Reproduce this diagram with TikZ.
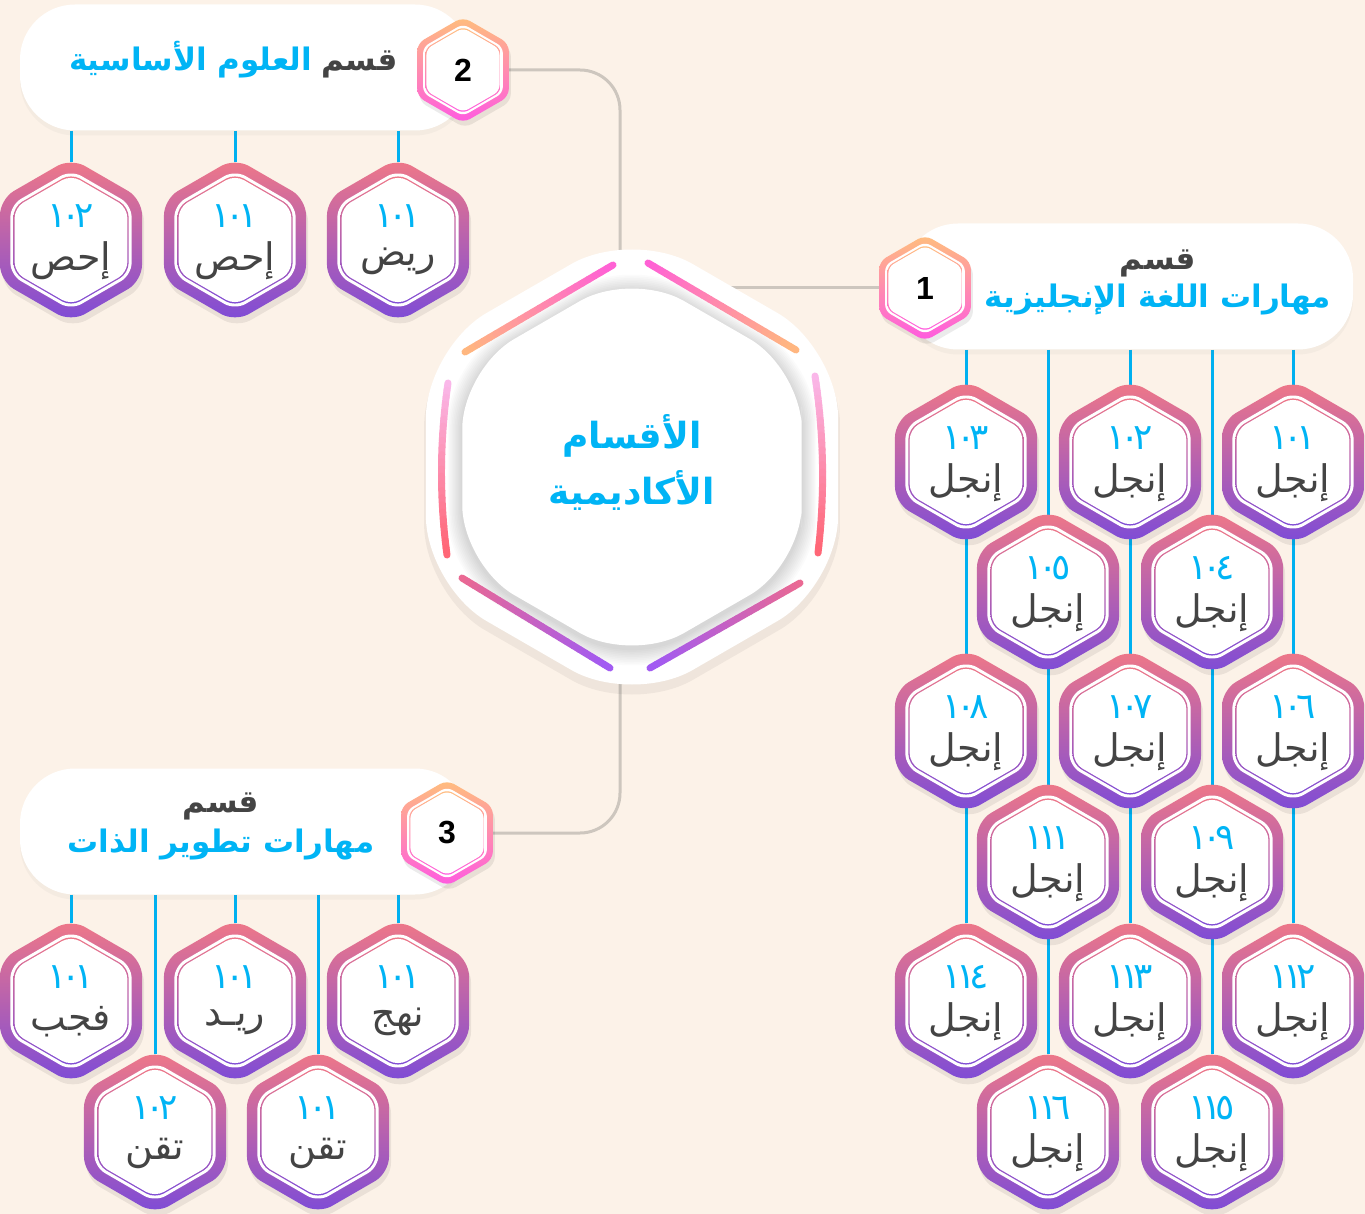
\documentclass[tikz,border=0pt]{standalone}
\usepackage{fontspec}
\usetikzlibrary{positioning,shadows}
\TeXXeTstate=1
\newfontfamily\arfont[Script=Arabic]{DejaVu Sans}
\newfontfamily\numfont[LetterSpace=-16]{DejaVu Sans}
\newfontfamily\latfont{Liberation Sans}

\definecolor{paper}{RGB}{252,242,232}
\definecolor{lineblue}{RGB}{0,176,240}
\definecolor{txtblue}{RGB}{0,180,245}
\definecolor{txtgray}{RGB}{68,68,68}
\definecolor{linkgray}{RGB}{205,198,190}
\definecolor{crsA}{RGB}{240,120,135}
\definecolor{crsM}{RGB}{195,100,180}
\definecolor{crsB}{RGB}{125,75,215}
\definecolor{bdgA}{RGB}{255,190,125}
\definecolor{bdgM}{RGB}{255,140,170}
\definecolor{bdgB}{RGB}{255,90,225}
\definecolor{dOrange}{RGB}{255,185,125}
\definecolor{dMagenta}{RGB}{255,95,215}
\definecolor{dPink}{RGB}{250,185,235}
\definecolor{dRed}{RGB}{255,100,115}
\definecolor{dRose}{RGB}{235,105,145}
\definecolor{dPurple}{RGB}{160,90,245}

\pgfdeclarelayer{back}
\pgfdeclarelayer{wires}
\pgfsetlayers{back,wires,main}

\tikzset{
  hexp/.style={insert path={(0:{0.866*(#1)}) -- (30:{#1}) -- (90:{#1}) -- (150:{#1})
    -- (210:{#1}) -- (270:{#1}) -- (330:{#1}) -- cycle}},
  vline/.style={draw=lineblue, line width=3pt},
  link/.style={draw=linkgray, line width=3pt, rounded corners=40pt},
  deptbox/.style={fill=white, rounded corners=55pt, minimum width=450pt, minimum height=126pt,
    drop shadow={opacity=0.06, shadow xshift=0pt, shadow yshift=-5pt}},
  deptword/.style={font=\arfont\bfseries\fontsize{31}{34}\selectfont, text=txtgray, inner sep=0pt},
  deptname/.style={font=\arfont\bfseries\fontsize{31}{34}\selectfont, text=txtblue, inner sep=0pt},
  hubtxt/.style={font=\arfont\bfseries\fontsize{36}{56}\selectfont, text=txtblue, align=center},
  crsnum/.style={font=\numfont\fontsize{36}{38}\selectfont, text=txtblue, inner sep=0pt},
  crsname/.style={font=\arfont\fontsize{38}{40}\selectfont, text=txtgray, inner sep=0pt},
  bdgtxt/.style={font=\latfont\bfseries\fontsize{32}{36}\selectfont, text=black},
  pics/course/.style 2 args={code={
    \fill[black, opacity=0.07, shift={(2,6)}, rounded corners=16pt, hexp=82];
    \shade[top color=crsA, middle color=crsM, bottom color=crsB, rounded corners=16pt, hexp=82];
    \fill[white, rounded corners=12pt, hexp=70];
    \shade[top color=crsA, bottom color=crsB, rounded corners=10pt, hexp=66.5];
    \fill[white, rounded corners=10pt, hexp=65];
    \node[crsnum] (-num) at (0,-24) {#1};
    \node[crsname] (-name) at (0,21) {\beginR #2\endR};
    \coordinate (-top) at (0,-78);
  }},
  pics/badge/.style={code={
    \fill[black, opacity=0.08, shift={(2,5)}, rounded corners=8pt, hexp=53];
    \shade[top color=bdgA, middle color=bdgM, bottom color=bdgB, rounded corners=8pt, hexp=53];
    \fill[white, rounded corners=6pt, hexp=46];
    \shade[top color=bdgA, bottom color=bdgB, rounded corners=6pt, hexp=43.5];
    \fill[white, rounded corners=6pt, hexp=42.2];
    \node[bdgtxt] (-num) {#1};
    \coordinate (-east) at (0:46);
    \coordinate (-west) at (180:46);
  }}
}

\begin{document}
\begin{tikzpicture}[x=1pt,y=-1pt]
\useasboundingbox (0,0) rectangle (1365,1214);
\begin{pgfonlayer}{back}
\fill[paper] (0,0) rectangle (1365,1214);
\end{pgfonlayer}

% department boxes
\node[deptbox] (dept2) at (245,67.5) {};
\node[deptbox] (dept1) at (1128,286.5) {};
\node[deptbox] (dept3) at (245,831.5) {};

\node[deptword, anchor=base east] (dept2w) at (398,71) {\beginR قسم\endR};
\node[deptname, left=9pt of dept2w.base west, anchor=base east] (dept2n) {\beginR العلوم الأساسية\endR};
\node[deptword] (dept1w) at (1158,263) {\beginR قسم\endR};
\node[deptname] (dept1n) at (1158,300) {\beginR مهارات اللغة الإنجليزية\endR};
\node[deptword] (dept3w) at (221,806) {\beginR قسم\endR};
\node[deptname] (dept3n) at (221,845) {\beginR مهارات تطوير الذات\endR};

% hub
\coordinate (hub) at (632,467);
\fill[black, opacity=0.05, shift={(hub)}, shift={(0,8)}, rounded corners=70pt, hexp=240];
\fill[white, shift={(hub)}, rounded corners=70pt, hexp=238];
\foreach \s in {1,...,10}
  \fill[black, opacity=0.014, shift={(hub)}, shift={(0,3)}, rounded corners=60pt, hexp={196+1.7*\s}];
\begin{scope}[shift={(hub)}, line width=7pt, line cap=round]
\foreach \xa/\ya/\xb/\yb/\bw/\ca/\cb in {
    -167/-115/-19/-202/0/dOrange/dMagenta,
    16/-204/164/-117/0/dMagenta/dOrange,
    183/-91/186/86/6/dPink/dRed,
    -184/-84/-185/88/-6/dPink/dRed,
    -170/111/-22/201/0/dRose/dPurple,
    168/116/18/201/0/dRose/dPurple}{
  \foreach \k in {0,...,23}{
    \pgfmathsetmacro\ta{\k/24}
    \pgfmathsetmacro\tb{(\k+1)/24}
    \pgfmathtruncatemacro\pc{100*(\k+0.5)/24}
    \colorlet{segc}{\cb!\pc!\ca}
    \draw[segc] ({\xa+(\xb-(\xa))*\ta+4*(\bw)*\ta*(1-\ta)},{\ya+(\yb-(\ya))*\ta})
      -- ({\xa+(\xb-(\xa))*\tb+4*(\bw)*\tb*(1-\tb)},{\ya+(\yb-(\ya))*\tb});
  }
}
\end{scope}
\fill[white, shift={(hub)}, rounded corners=60pt, hexp=196];
\node[hubtxt] (hubt) at (632,462) {\beginR الأقسام\endR\\\beginR الأكاديمية\endR};

% number badges
\pic (b2) at (463,70) {badge=2};
\pic (b1) at (925,288) {badge=1};
\pic (b3) at (447,833) {badge=3};

% courses
\foreach \nm/\cx/\cy/\cn/\cw in {s1/398/240/١٠١/ريض, s2/235/240/١٠١/إحص, s3/71/240/١٠٢/إحص}
  \pic (\nm) at (\cx,\cy) {course={\cn}{\cw}};
\foreach \nm/\cx/\cy/\cn in {e101/1293/462/١٠١, e102/1130/462/١٠٢, e103/966/462/١٠٣,
    e104/1212/592/١٠٤, e105/1048/592/١٠٥,
    e106/1293/731/١٠٦, e107/1130/731/١٠٧, e108/966/731/١٠٨,
    e109/1212/862/١٠٩, e111/1048/862/١١١,
    e112/1293/1001/١١٢, e113/1130/1001/١١٣, e114/966/1001/١١٤,
    e115/1212/1132/١١٥, e116/1048/1132/١١٦}
  \pic (\nm) at (\cx,\cy) {course={\cn}{إنجل}};
\foreach \nm/\cx/\cy/\cn/\cw in {p1/398/1001/١٠١/نهج, p2/235/1001/١٠١/ريـد, p3/71/1001/١٠١/فجب,
    p4/318/1132/١٠١/تقن, p5/155/1132/١٠٢/تقن}
  \pic (\nm) at (\cx,\cy) {course={\cn}{\cw}};

% connectors
\begin{pgfonlayer}{wires}
\foreach \c in {s1,s2,s3}
  \draw[vline] (\c-top |- dept2.south) -- (\c-top);
\foreach \c in {e112,e113,e114,e115,e116}
  \draw[vline] (\c-top |- dept1.south) -- (\c-top);
\foreach \c in {p1,p2,p3,p4,p5}
  \draw[vline] (\c-top |- dept3.south) -- (\c-top);
\draw[link] (b2-east) -| ([xshift=-12pt]hub);
\draw[link] (b1-west) -- (b1-west -| hub);
\draw[link] ([xshift=-12pt]hub) |- (b3-east);
\end{pgfonlayer}
\end{tikzpicture}
\end{document}
